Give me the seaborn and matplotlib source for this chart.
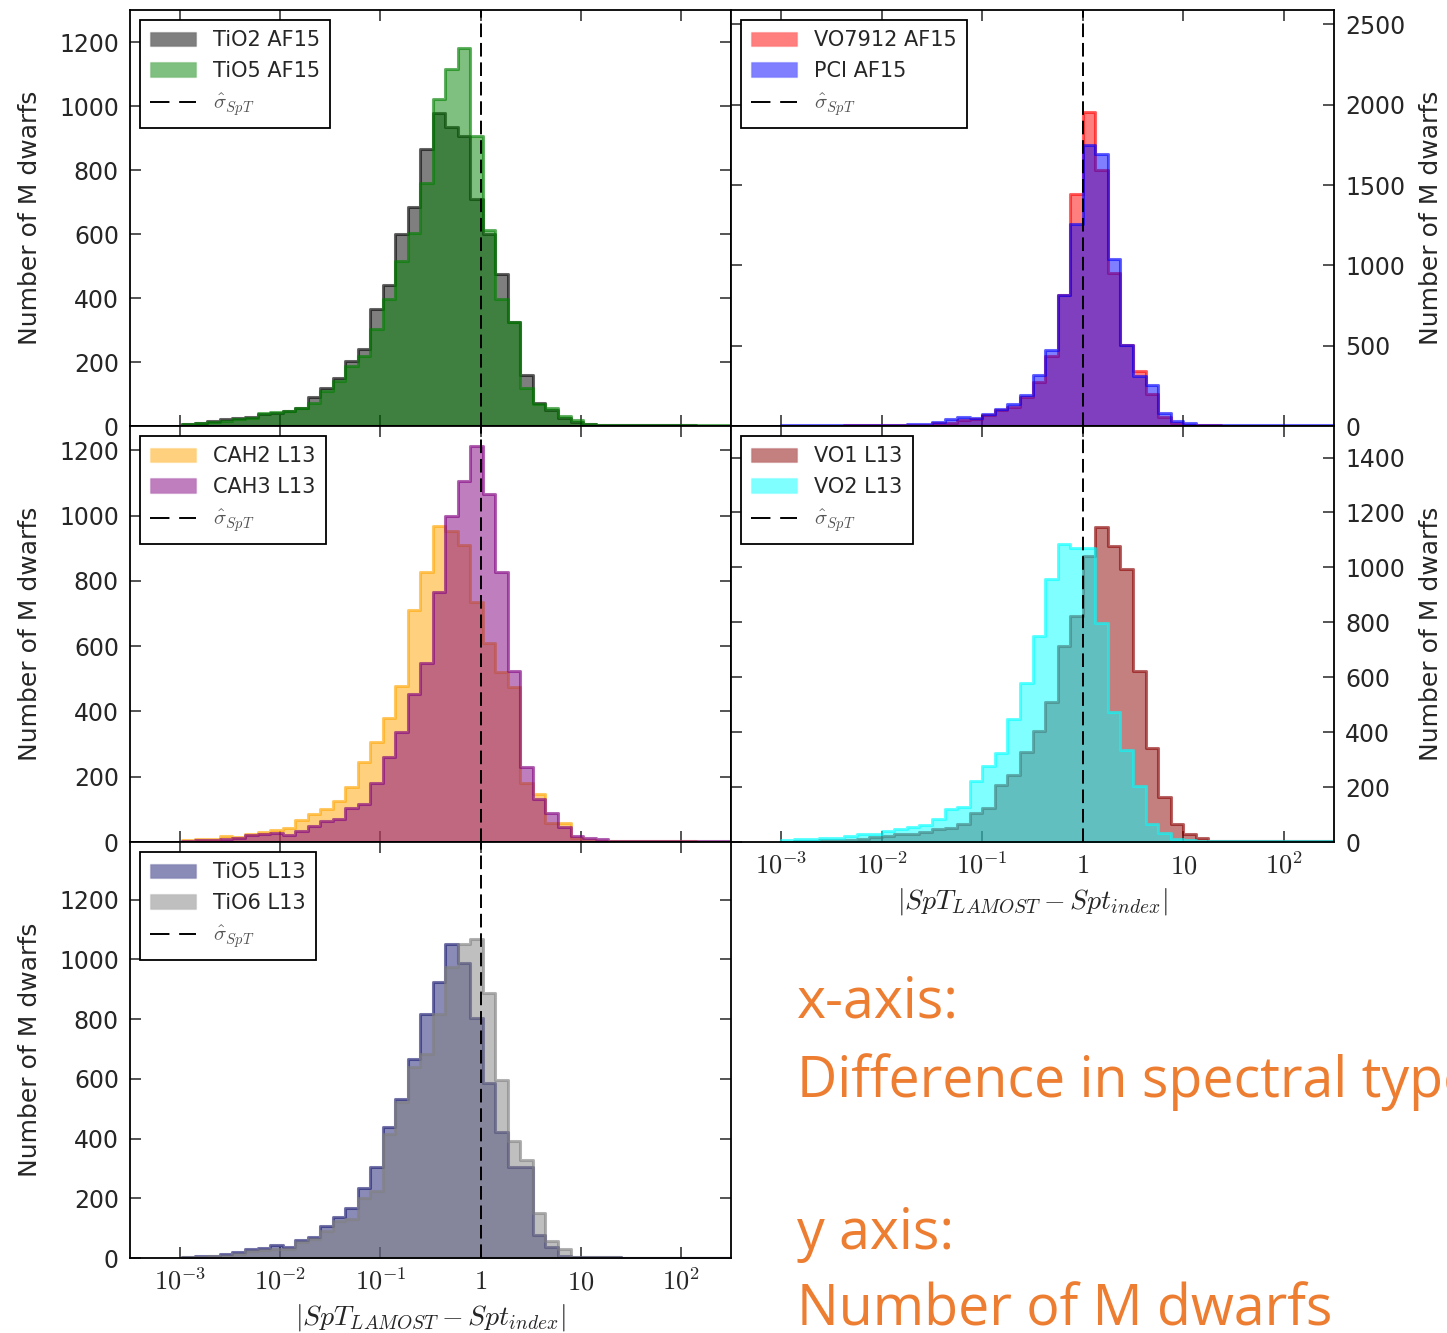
import numpy as np
import pandas as pd
import matplotlib
matplotlib.use("Agg")
import matplotlib.pyplot as plt
import seaborn as sns
from matplotlib.patches import Patch
from matplotlib.lines import Line2D
from matplotlib.colors import to_rgba
from matplotlib.ticker import NullLocator, FixedLocator

# ---------------- data (counts per log bin, 8 bins per decade, 10^-3 .. 10^2.5) ----------------
tio2_af15 = [7, 10, 16, 21, 25, 29, 37, 42, 47, 57, 91, 120, 151, 203, 242, 367, 441, 599, 685, 865,
             979, 935, 906, 708, 599, 476, 325, 159, 73, 50, 26, 12, 7, 4, 3, 3, 2, 2, 2, 2, 2, 1, 1, 1]
tio5_af15 = [5, 8, 12, 16, 23, 26, 42, 45, 47, 57, 73, 109, 141, 188, 219, 302, 396, 516, 604, 760,
             1023, 1115, 1180, 906, 611, 396, 325, 120, 68, 57, 31, 19, 7, 4, 4, 3, 3, 3, 3, 3, 3, 2, 2, 2]

vo7912_af15 = [3, 3, 3, 3, 3, 4, 4, 5, 6, 7, 8, 6, 17, 21, 37, 44, 68, 100, 116, 178, 272, 436,
               815, 1442, 1957, 1594, 950, 504, 342, 197, 58, 17, 8, 4, 4, 3, 3, 3, 3, 3, 3, 3, 3, 3]
pci_af15 = [4, 4, 4, 4, 4, 5, 5, 6, 7, 8, 10, 12, 27, 41, 54, 48, 75, 104, 137, 193, 317, 473,
            815, 1255, 1749, 1691, 1037, 504, 311, 255, 79, 33, 17, 6, 5, 4, 4, 4, 4, 4, 4, 4, 4, 4]

cah2_l13 = [6, 8, 10, 18, 15, 26, 32, 37, 44, 66, 87, 102, 126, 170, 246, 305, 379, 479, 712, 827,
            967, 954, 910, 737, 609, 520, 476, 182, 146, 59, 59, 13, 6, 3, 2, 2, 2, 2, 2, 2, 2, 1, 1, 1]
cah3_l13 = [3, 6, 6, 10, 13, 20, 24, 29, 20, 34, 49, 64, 70, 105, 116, 182, 259, 336, 453, 550,
            767, 1000, 1105, 1213, 1067, 829, 525, 230, 131, 90, 47, 18, 13, 8, 4, 3, 3, 2, 2, 2, 2, 2, 2, 2]

vo1_l13 = [0, 3, 5, 6, 7, 7, 12, 19, 22, 30, 30, 36, 49, 52, 67, 107, 125, 208, 243, 329, 404, 510,
           714, 823, 1042, 1147, 1078, 996, 623, 344, 164, 64, 28, 16, 3, 3, 3, 3, 2, 2, 2, 2, 2, 2]
vo2_l13 = [7, 10, 12, 16, 16, 22, 28, 30, 40, 46, 56, 61, 83, 119, 129, 222, 277, 325, 447, 580, 750, 959,
           1084, 1072, 1072, 799, 474, 334, 204, 64, 34, 12, 6, 4, 3, 3, 3, 3, 3, 3, 3, 3, 3, 3]

tio5_l13 = [4, 6, 8, 13, 21, 30, 34, 44, 36, 61, 71, 106, 136, 166, 235, 304, 440, 533, 665, 818,
            924, 1052, 987, 803, 586, 421, 306, 306, 77, 38, 8, 2, 2, 3, 2, 0, 0, 0, 0, 0, 0, 0, 0, 0]
tio6_l13 = [2, 4, 6, 8, 13, 22, 27, 30, 30, 52, 64, 92, 125, 131, 201, 226, 416, 522, 639, 684,
            818, 976, 1052, 1069, 887, 596, 393, 328, 150, 58, 30, 4, 4, 3, 2, 1, 0, 0, 0, 0, 0, 0, 0, 0]

xtick_values = [1e-3, 1e-2, 1e-1, 1, 10, 100]
xtick_labels = [r"$10^{-3}$", r"$10^{-2}$", r"$10^{-1}$", r"$1$", r"$10$", r"$10^{2}$"]
sigma_spt = 1.0

# ---------------- style ----------------
sns.set_style("ticks", {"xtick.direction": "in", "ytick.direction": "in"})
plt.rcParams["font.family"] = ["DejaVu Sans"]
plt.rcParams["mathtext.fontset"] = "cm"
plt.rcParams["axes.linewidth"] = 1.3
plt.rcParams["axes.edgecolor"] = "black"

W, H = 1447, 1333
fig = plt.figure(figsize=(W / 100, H / 100), dpi=100)


def add_ax(x0, y0, x1, y1):
    return fig.add_axes([x0 / W, 1 - y1 / H, (x1 - x0) / W, (y1 - y0) / H])


panels = [
    dict(box=(130, 10, 731, 426), side="left", off=0.023, ylim=1300, yticks=range(0, 1201, 200),
         series=[("TiO2 AF15", tio2_af15, "black"), ("TiO5 AF15", tio5_af15, "green")], xlab=False),
    dict(box=(731, 10, 1334, 426), side="right", off=0.0, ylim=2590, yticks=range(0, 2501, 500),
         series=[("VO7912 AF15", vo7912_af15, "red"), ("PCI AF15", pci_af15, "blue")], xlab=False),
    dict(box=(130, 426, 731, 842), side="left", off=0.023, ylim=1275, yticks=range(0, 1201, 200),
         series=[("CAH2 L13", cah2_l13, "orange"), ("CAH3 L13", cah3_l13, "purple")], xlab=False),
    dict(box=(731, 426, 1334, 842), side="right", off=0.0, ylim=1515, yticks=range(0, 1401, 200),
         series=[("VO1 L13", vo1_l13, "darkred"), ("VO2 L13", vo2_l13, "cyan")], xlab=True),
    dict(box=(130, 842, 731, 1258), side="left", off=0.023, ylim=1393, yticks=range(0, 1201, 200),
         series=[("TiO5 L13", tio5_l13, "midnightblue"), ("TiO6 L13", tio6_l13, "gray")], xlab=True),
]

NB = 44
for p in panels:
    x0, y0, x1, y1 = p["box"]
    ax = add_ax(x0, y0, x1, y1)
    lo = -3.0 + p["off"]
    hi = lo + NB / 8.0
    centers = 10 ** (lo + (np.arange(NB) + 0.5) / 8.0)
    handles = []
    for name, counts, color in p["series"]:
        df = pd.DataFrame({"x": centers, "w": np.asarray(counts, dtype=float)})
        sns.histplot(data=df, x="x", weights="w", bins=NB, binrange=(lo, hi), log_scale=True,
                     element="step", fill=True, color=color, alpha=0.5,
                     edgecolor=to_rgba(color, 0.6), linewidth=2.2, ax=ax)
        handles.append(Patch(facecolor=to_rgba(color, 0.5), edgecolor=to_rgba(color, 0.15),
                             linewidth=1.0, label=name))
    ax.axvline(sigma_spt, color="black", linestyle=(0, (7, 3)), linewidth=1.4)
    handles.append(Line2D([], [], color="black", linestyle=(0, (10, 5)), linewidth=1.4,
                          label=r"$\hat{\sigma}_{SpT}$"))

    ax.set_xlim(10 ** -3.5, 10 ** 2.5)
    ax.set_ylim(0, p["ylim"])
    ax.xaxis.set_major_locator(FixedLocator(xtick_values))
    ax.xaxis.set_minor_locator(NullLocator())
    ax.set_yticks(list(p["yticks"]))
    ax.tick_params(axis="both", which="major", direction="in", length=8, width=1.1,
                   top=True, bottom=True, left=True, right=True, labelsize=17, pad=8)
    if p["xlab"]:
        ax.set_xticklabels(xtick_labels, fontsize=19)
        ax.set_xlabel(r"$|SpT_{LAMOST} - Spt_{index}|$", fontsize=20)
        ax.xaxis.set_label_coords(0.5, -0.105)
    else:
        ax.set_xticklabels([])
        ax.set_xlabel("")
    if p["side"] == "right":
        ax.yaxis.set_label_position("right")
        ax.tick_params(axis="y", labelleft=False, labelright=True)
        ax.set_ylabel("Number of M dwarfs", fontsize=18)
        ax.yaxis.set_label_coords(1.141, 0.5)
    else:
        ax.set_ylabel("Number of M dwarfs", fontsize=18)
        ax.yaxis.set_label_coords(-0.147, 0.5)
    for s in ax.spines.values():
        s.set_visible(True)
        s.set_linewidth(1.3)

    leg = ax.legend(handles=handles, loc="upper left",
                    bbox_to_anchor=(10 / (x1 - x0), 1 - 10 / (y1 - y0)),
                    borderaxespad=0, fontsize=15, frameon=True, fancybox=False, framealpha=1,
                    edgecolor="black", handlelength=2.2, handletextpad=0.8, labelspacing=0.5,
                    borderpad=0.5)
    leg.get_frame().set_linewidth(1.3)
    leg.texts[-1].set_color("#555555")

orange = "#ED7D31"
for txt, base in [("x-axis:", 1018), ("Difference in spectral type", 1097),
                  ("y axis:", 1249), ("Number of M dwarfs", 1325)]:
    fig.text(797 / W, 1 - base / H, txt, color=orange, fontsize=40, family="Open Sans",
             ha="left", va="baseline")

fig.savefig("out.png", dpi=100)
